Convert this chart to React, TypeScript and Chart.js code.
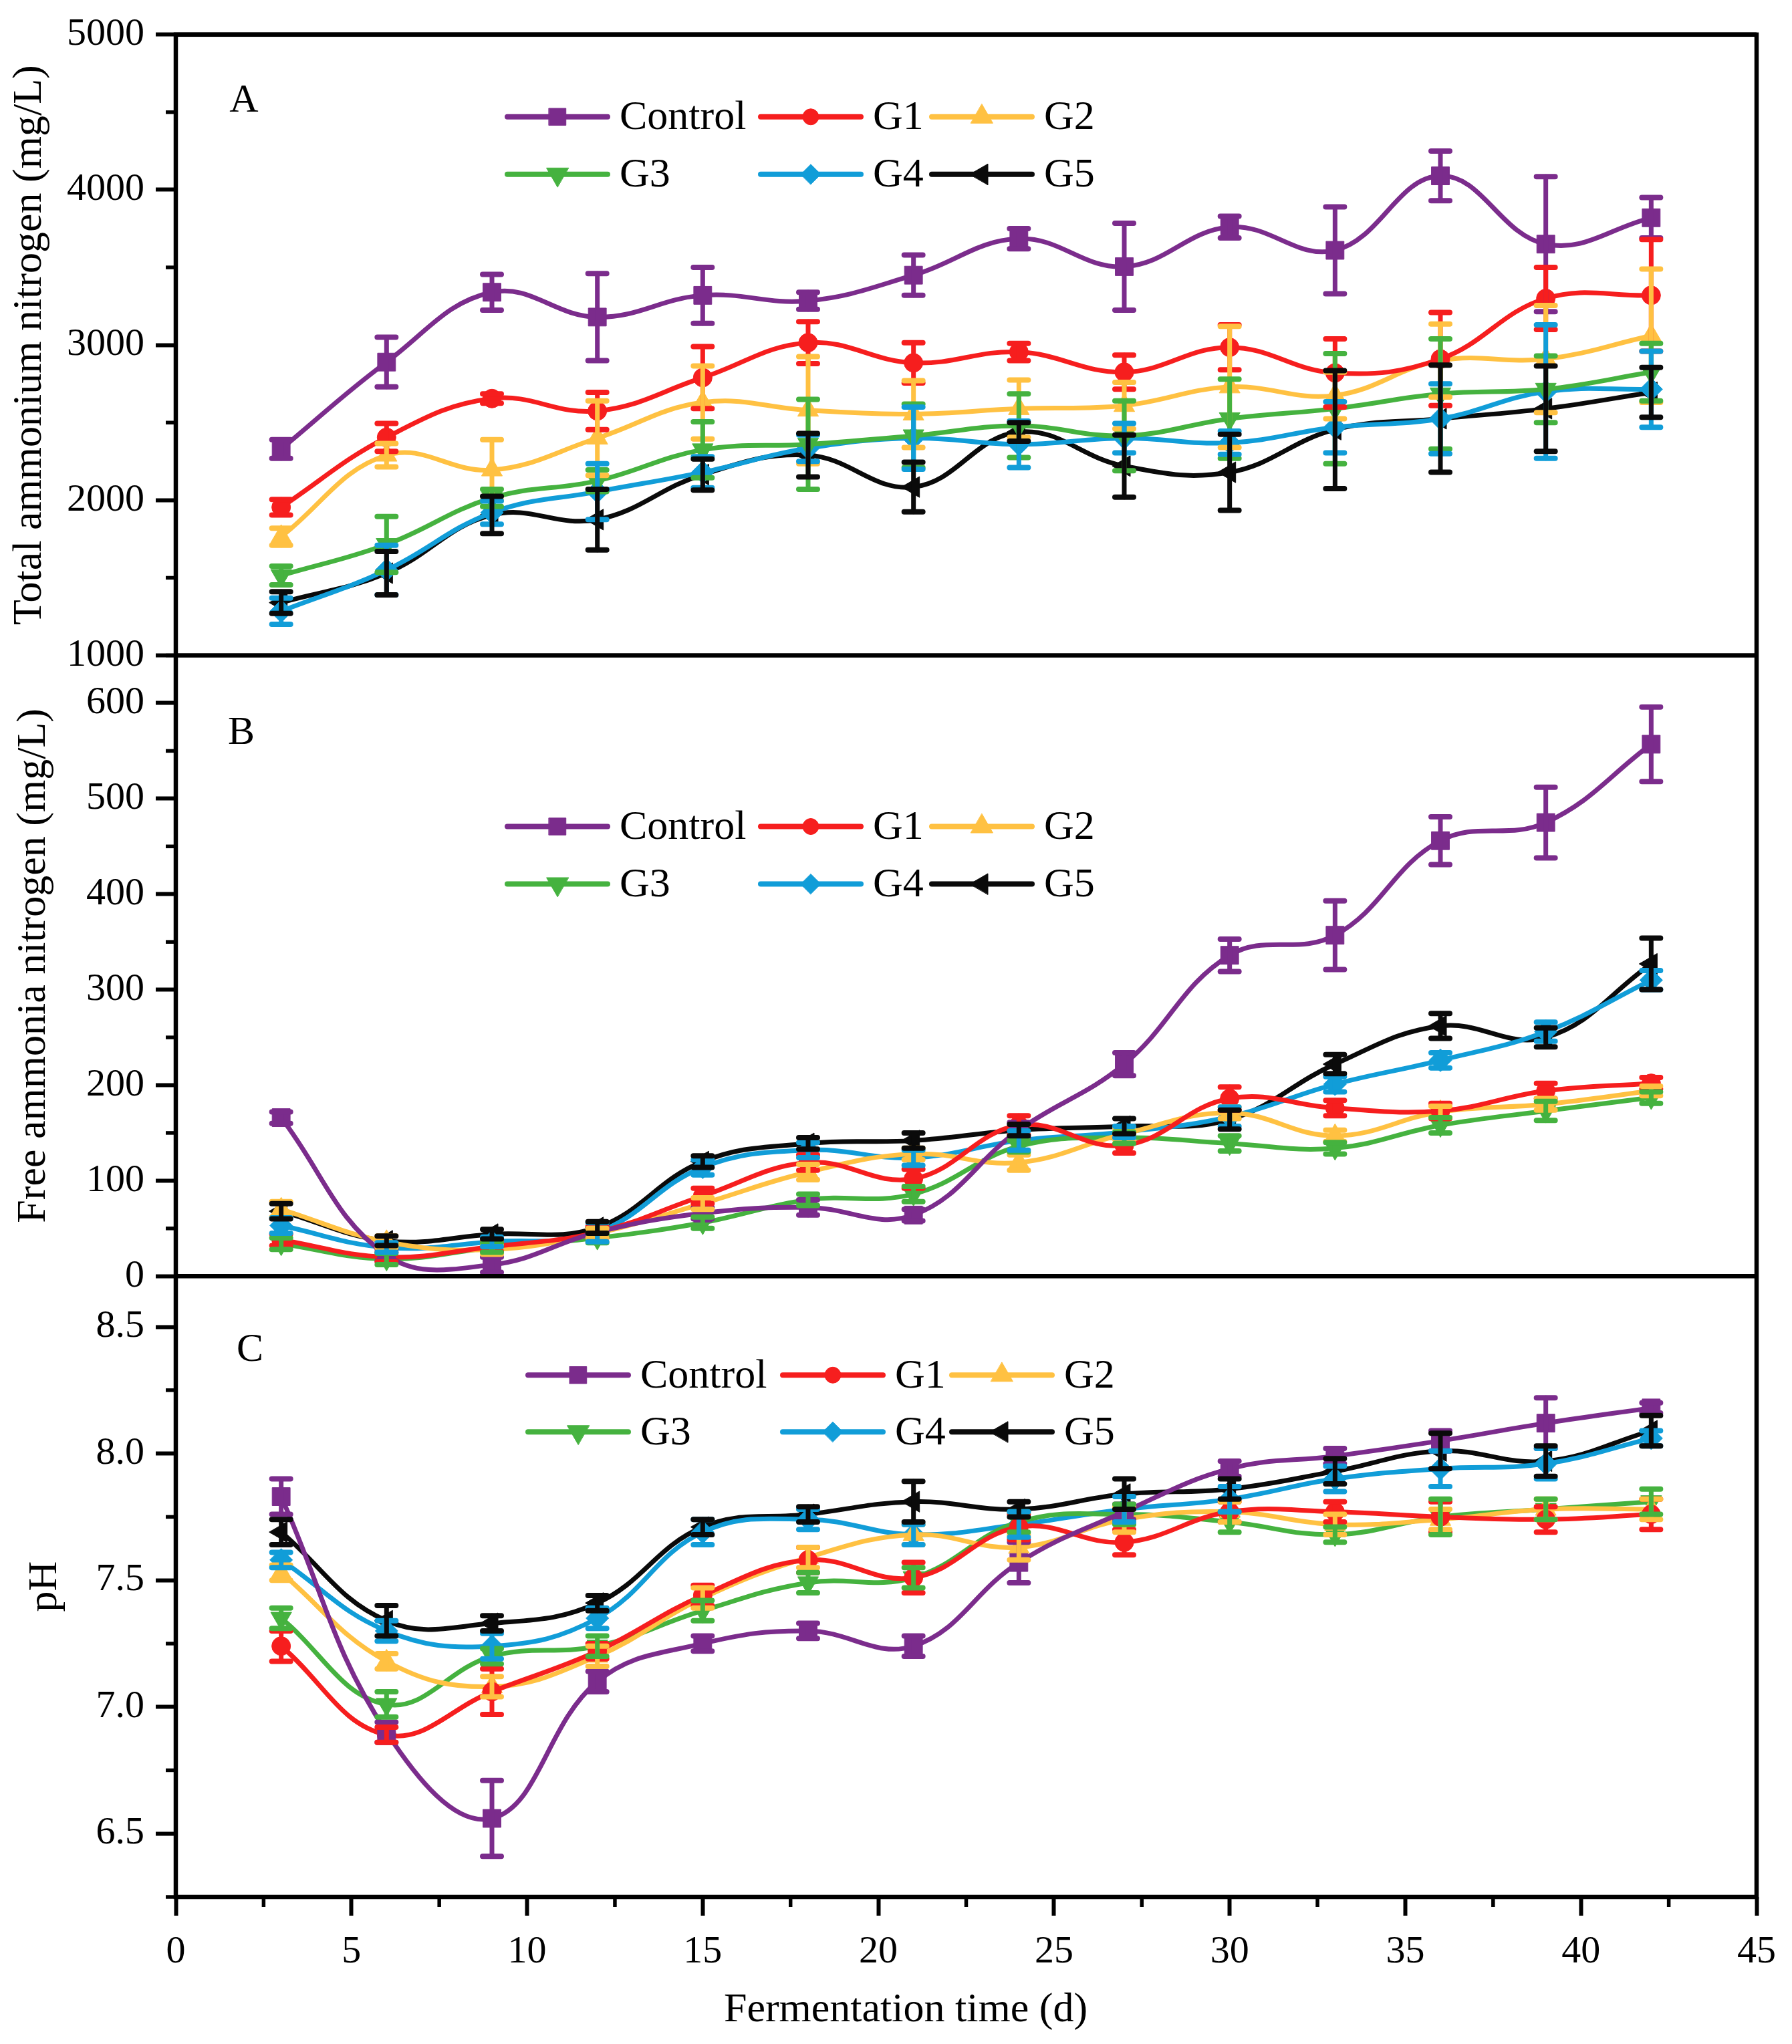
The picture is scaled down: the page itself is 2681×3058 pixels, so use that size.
import React, { useEffect, useRef } from "react";
import { Chart, registerables } from "chart.js";
import { drawPoint } from "chart.js/helpers";

Chart.register(...registerables);

const FONT = '"Liberation Serif", "Times New Roman", serif';

// fermentation time (d)
const days = [3, 6, 9, 12, 15, 18, 21, 24, 27, 30, 33, 36, 39, 42];

const seriesNames = ["Control", "G1", "G2", "G3", "G4", "G5"];
const seriesColors = ["#7B2C8C", "#F61E1E", "#FFC142", "#45B23F", "#119DD8", "#0A0A0A"];
const pointStyles = ["rect", "circle", "triangle", "triangle", "rectRot", "triangle"];
const pointRotations = [0, 0, 0, 180, 0, -90];
const pointRadii = [19, 14, 18, 18, 17, 18];
const legendRadii = [18, 12, 19, 19, 15, 18];

// A: total ammonium nitrogen (mg/L)
const tanControl = [2330, 2890, 3340, 3180, 3320, 3285, 3450, 3685, 3505, 3760, 3610, 4090, 3650, 3820];
const tanG1 = [1955, 2405, 2655, 2575, 2790, 3015, 2885, 2955, 2825, 2985, 2820, 2910, 3300, 3320];
const tanG2 = [1765, 2290, 2195, 2400, 2630, 2580, 2555, 2590, 2610, 2730, 2675, 2900, 2910, 3060];
const tanG3 = [1515, 1715, 2015, 2125, 2325, 2360, 2415, 2480, 2415, 2525, 2590, 2685, 2715, 2825];
const tanG4 = [1285, 1550, 1920, 2055, 2180, 2335, 2400, 2360, 2400, 2370, 2470, 2525, 2700, 2715];
const tanG5 = [1340, 1530, 1905, 1875, 2165, 2290, 2085, 2440, 2220, 2180, 2455, 2525, 2590, 2695];
const tanControlErr = [60, 160, 115, 280, 180, 55, 130, 65, 280, 70, 280, 160, 435, 130];
const tanG1Err = [50, 90, 30, 120, 200, 135, 130, 55, 110, 145, 220, 300, 200, 360];
const tanG2Err = [55, 75, 195, 240, 235, 345, 215, 185, 150, 390, 150, 235, 345, 430];
const tanG3Err = [60, 180, 55, 70, 180, 290, 205, 205, 225, 255, 355, 355, 215, 185];
const tanG4Err = [85, 160, 75, 180, 100, 85, 200, 150, 95, 75, 165, 225, 430, 245];
const tanG5Err = [70, 140, 120, 195, 100, 140, 160, 60, 200, 245, 380, 345, 275, 160];

// B: free ammonia nitrogen (mg/L)
const fanControl = [166, 22, 12, 46, 66, 72, 64, 153, 222, 336, 357, 456, 475, 557];
const fanG1 = [38, 20, 31, 46, 84, 119, 102, 158, 137, 186, 176, 173, 194, 202];
const fanG2 = [70, 36, 28, 45, 76, 109, 128, 119, 149, 171, 147, 172, 180, 194];
const fanG3 = [34, 18, 30, 40, 56, 80, 86, 136, 145, 139, 134, 158, 173, 187];
const fanG4 = [53, 30, 36, 46, 114, 132, 124, 142, 151, 167, 201, 226, 256, 310];
const fanG5 = [68, 37, 44, 51, 120, 139, 142, 153, 157, 164, 222, 262, 250, 327];
const fanControlErr = [6, 6, 8, 6, 6, 8, 6, 8, 12, 17, 36, 25, 37, 39];
const fanG1Err = [6, 5, 5, 6, 8, 8, 10, 10, 8, 12, 8, 8, 8, 6];
const fanG2Err = [8, 6, 5, 5, 6, 8, 6, 8, 6, 6, 6, 6, 6, 5];
const fanG3Err = [6, 6, 5, 5, 6, 6, 8, 6, 6, 8, 6, 8, 10, 6];
const fanG4Err = [8, 5, 5, 10, 8, 8, 8, 10, 6, 10, 8, 8, 10, 10];
const fanG5Err = [8, 5, 5, 6, 6, 6, 8, 6, 8, 10, 10, 13, 10, 27];

// C: pH
const phControl = [7.83, 6.9, 6.56, 7.1, 7.25, 7.3, 7.24, 7.57, 7.77, 7.94, 7.99, 8.05, 8.12, 8.18];
const phG1 = [7.24, 6.89, 7.06, 7.22, 7.44, 7.58, 7.51, 7.71, 7.65, 7.77, 7.77, 7.75, 7.74, 7.76];
const phG2 = [7.53, 7.18, 7.08, 7.2, 7.43, 7.59, 7.68, 7.63, 7.74, 7.77, 7.72, 7.74, 7.78, 7.78];
const phG3 = [7.35, 7.01, 7.2, 7.24, 7.38, 7.49, 7.51, 7.73, 7.76, 7.73, 7.68, 7.75, 7.78, 7.81];
const phG4 = [7.58, 7.3, 7.24, 7.35, 7.69, 7.74, 7.68, 7.72, 7.78, 7.82, 7.9, 7.94, 7.96, 8.06];
const phG5 = [7.69, 7.34, 7.33, 7.41, 7.71, 7.76, 7.81, 7.78, 7.84, 7.86, 7.93, 8.01, 7.97, 8.09];
const phControlErr = [0.07, 0.04, 0.15, 0.04, 0.03, 0.03, 0.04, 0.08, 0.03, 0.03, 0.03, 0.04, 0.1, 0.02];
const phG1Err = [0.06, 0.03, 0.09, 0.03, 0.04, 0.05, 0.06, 0.05, 0.05, 0.04, 0.04, 0.06, 0.05, 0.06];
const phG2Err = [0.03, 0.03, 0.04, 0.04, 0.04, 0.04, 0.04, 0.05, 0.05, 0.04, 0.04, 0.04, 0.04, 0.04];
const phG3Err = [0.04, 0.05, 0.03, 0.04, 0.04, 0.04, 0.04, 0.04, 0.04, 0.04, 0.03, 0.07, 0.04, 0.05];
const phG4Err = [0.03, 0.04, 0.05, 0.04, 0.05, 0.04, 0.04, 0.05, 0.05, 0.05, 0.05, 0.07, 0.06, 0.03];
const phG5Err = [0.05, 0.06, 0.03, 0.03, 0.03, 0.03, 0.08, 0.03, 0.06, 0.04, 0.05, 0.07, 0.06, 0.06];

const panels = [
  {
    id: "yA",
    letter: "A",
    values: [tanControl, tanG1, tanG2, tanG3, tanG4, tanG5],
    errors: [tanControlErr, tanG1Err, tanG2Err, tanG3Err, tanG4Err, tanG5Err],
  },
  {
    id: "yB",
    letter: "B",
    values: [fanControl, fanG1, fanG2, fanG3, fanG4, fanG5],
    errors: [fanControlErr, fanG1Err, fanG2Err, fanG3Err, fanG4Err, fanG5Err],
  },
  {
    id: "yC",
    letter: "C",
    values: [phControl, phG1, phG2, phG3, phG4, phG5],
    errors: [phControlErr, phG1Err, phG2Err, phG3Err, phG4Err, phG5Err],
  },
];

// layout of legend / panel letters, px from chart area left and panel top
const legendCols = [[492, 871, 1127], [492, 871, 1127], [523, 904, 1157]];
const legendRows = [[123, 209], [256, 342], [148, 233]];
const letterPos = [[102, 99], [98, 117], [111, 111]];
const xTitleOffset = 1092; // Origin puts the x title a bit left of centre

const minorSteps: Record<string, number> = { x: 2.5, yA: 500, yB: 50, yC: 0.25 };
const majorSteps: Record<string, number> = { x: 5, yA: 1000, yB: 100, yC: 0.5 };

const isMultiple = (v: number, step: number) =>
  Math.abs(v / step - Math.round(v / step)) < 1e-6;

const framePlugin = {
  id: "frame",
  afterDatasetsDraw(chart: any) {
    const { ctx } = chart;
    ctx.save();
    ctx.lineCap = "round";
    chart.data.datasets.forEach((ds: any, di: number) => {
      const meta = chart.getDatasetMeta(di);
      const yScale = chart.scales[ds.yAxisID];
      ctx.strokeStyle = ds.borderColor;
      meta.data.forEach((pt: any, i: number) => {
        const v = ds.data[i].y;
        const e = ds.errors[i];
        const y1 = yScale.getPixelForValue(v + e);
        const y2 = yScale.getPixelForValue(v - e);
        ctx.lineWidth = 7;
        ctx.beginPath();
        ctx.moveTo(pt.x, y1);
        ctx.lineTo(pt.x, y2);
        ctx.stroke();
        ctx.lineWidth = 8;
        ctx.beginPath();
        ctx.moveTo(pt.x - 14, y1);
        ctx.lineTo(pt.x + 14, y1);
        ctx.moveTo(pt.x - 14, y2);
        ctx.lineTo(pt.x + 14, y2);
        ctx.stroke();
      });
    });
    ctx.restore();
  },
  afterDraw(chart: any) {
    const { ctx, chartArea } = chart;
    const { left, right, top, bottom } = chartArea;
    ctx.save();
    ctx.strokeStyle = "#000";
    ctx.lineWidth = 5.5;
    ctx.lineCap = "butt";

    // minor ticks
    Object.keys(minorSteps).forEach((id) => {
      const s = chart.scales[id];
      const step = minorSteps[id];
      for (let v = Math.ceil(s.min / step) * step; v <= s.max + 1e-9; v += step) {
        if (isMultiple(v, majorSteps[id])) continue;
        const p = s.getPixelForValue(v);
        ctx.beginPath();
        if (id === "x") {
          ctx.moveTo(p, bottom);
          ctx.lineTo(p, bottom + 15);
        } else {
          ctx.moveTo(left, p);
          ctx.lineTo(left - 15, p);
        }
        ctx.stroke();
      }
    });

    // frame + panel separators
    ctx.lineWidth = 6.5;
    ctx.strokeRect(left, top, right - left, bottom - top);
    panels.forEach((panel) => {
      const s = chart.scales[panel.id];
      ctx.beginPath();
      ctx.moveTo(left, s.top);
      ctx.lineTo(right, s.top);
      ctx.stroke();
    });

    // x axis title
    ctx.fillStyle = "#000";
    ctx.font = `62px ${FONT}`;
    ctx.textAlign = "center";
    ctx.textBaseline = "middle";
    ctx.fillText("Fermentation time (d)", left + xTitleOffset, chart.scales.x.bottom - 50);

    // panel letters and legends
    panels.forEach((panel, pi) => {
      const s = chart.scales[panel.id];
      ctx.fillStyle = "#000";
      ctx.font = `60px ${FONT}`;
      ctx.textAlign = "center";
      ctx.textBaseline = "middle";
      ctx.fillText(panel.letter, left + letterPos[pi][0], s.top + letterPos[pi][1]);

      seriesNames.forEach((name, i) => {
        const x0 = left + legendCols[pi][i % 3];
        const y0 = s.top + legendRows[pi][Math.floor(i / 3)];
        const len = 158;
        ctx.strokeStyle = seriesColors[i];
        ctx.fillStyle = seriesColors[i];
        ctx.lineWidth = 8;
        ctx.lineCap = "round";
        ctx.beginPath();
        ctx.moveTo(x0 + 4, y0);
        ctx.lineTo(x0 + len - 4, y0);
        ctx.stroke();
        ctx.lineWidth = 1;
        drawPoint(
          ctx,
          {
            pointStyle: pointStyles[i],
            rotation: pointRotations[i],
            radius: legendRadii[i],
            borderWidth: 1,
          } as any,
          x0 + len / 2,
          y0
        );
        ctx.fillStyle = "#000";
        ctx.font = `62px ${FONT}`;
        ctx.textAlign = "left";
        ctx.textBaseline = "middle";
        ctx.fillText(name, x0 + len + 14, y0 + 2);
      });
    });
    ctx.restore();
  },
};

const tickFont = { family: FONT, size: 58 };
const titleFont = { family: FONT, size: 62 };

const yAxis = (
  id: string,
  min: number,
  max: number,
  title: string,
  titlePad: number,
  fmt: (v: number) => string
) => ({
  type: "linear",
  position: "left",
  stack: "panels",
  stackWeight: 1,
  min,
  max,
  afterFit: (s: any) => {
    s.width = 263;
  },
  border: { display: false },
  grid: {
    drawOnChartArea: false,
    drawTicks: true,
    tickLength: 30,
    tickWidth: 6,
    tickColor: (c: any) =>
      c.tick && isMultiple(c.tick.value, majorSteps[id]) ? "#000" : "rgba(0,0,0,0)",
  },
  ticks: {
    stepSize: minorSteps[id],
    autoSkip: false,
    includeBounds: false,
    padding: 17,
    color: "#000",
    font: tickFont,
    callback: (v: any) => (isMultiple(Number(v), majorSteps[id]) ? fmt(Number(v)) : ""),
  },
  title: {
    display: true,
    text: title,
    color: "#000",
    font: titleFont,
    padding: { top: titlePad, bottom: 0 },
  },
});

export default function App() {
  const canvasRef = useRef<HTMLCanvasElement | null>(null);
  const chartRef = useRef<Chart | null>(null);

  useEffect(() => {
    const canvas = canvasRef.current;
    if (!canvas) return;
    if (chartRef.current) {
      chartRef.current.destroy();
      chartRef.current = null;
    }

    const datasets: any[] = [];
    panels.forEach((panel) => {
      panel.values.forEach((vals, i) => {
        datasets.push({
          label: `${panel.letter} ${seriesNames[i]}`,
          data: days.map((d, j) => ({ x: d, y: vals[j] })),
          errors: panel.errors[i],
          yAxisID: panel.id,
          borderColor: seriesColors[i],
          backgroundColor: seriesColors[i],
          borderWidth: 7,
          tension: 0.4,
          pointStyle: pointStyles[i],
          pointRotation: pointRotations[i],
          pointRadius: pointRadii[i],
          pointBorderWidth: 1,
          pointBorderColor: seriesColors[i],
          pointBackgroundColor: seriesColors[i],
          clip: false,
        });
      });
    });

    chartRef.current = new Chart(canvas, {
      type: "line",
      data: { datasets },
      options: {
        animation: false,
        responsive: false,
        devicePixelRatio: 1,
        layout: { padding: { top: 51, right: 53, left: 0, bottom: 0 } },
        plugins: {
          legend: { display: false },
          tooltip: { enabled: false },
        },
        scales: {
          x: {
            type: "linear",
            position: "bottom",
            min: 0,
            max: 45,
            afterFit: (s: any) => {
              s.height = 220;
            },
            border: { display: false },
            grid: {
              drawOnChartArea: false,
              drawTicks: true,
              tickLength: 28,
              tickWidth: 6,
              tickColor: (c: any) =>
                c.tick && isMultiple(c.tick.value, 5) ? "#000" : "rgba(0,0,0,0)",
            },
            ticks: {
              stepSize: 2.5,
              autoSkip: false,
              maxRotation: 0,
              padding: 20,
              color: "#000",
              font: tickFont,
              callback: (v: any) => (isMultiple(Number(v), 5) ? String(v) : ""),
            },
            title: { display: false },
          },
          yC: yAxis("yC", 6.25, 8.7, "pH", 31, (v) => v.toFixed(1)),
          yB: yAxis("yB", 0, 650, "Free ammonia nitrogen (mg/L)", 14, (v) => String(v)),
          yA: yAxis("yA", 1000, 5000, "Total ammonium nitrogen (mg/L)", 8, (v) => String(v)),
        } as any,
      },
      plugins: [framePlugin],
    });

    return () => {
      chartRef.current?.destroy();
      chartRef.current = null;
    };
  }, []);

  return (
    <div
      style={{
        position: "absolute",
        left: 0,
        top: 0,
        width: 2681,
        height: 3058,
        background: "#fff",
      }}
    >
      <canvas
        ref={canvasRef}
        width={2681}
        height={3058}
        style={{ display: "block", width: 2681, height: 3058 }}
      />
    </div>
  );
}
